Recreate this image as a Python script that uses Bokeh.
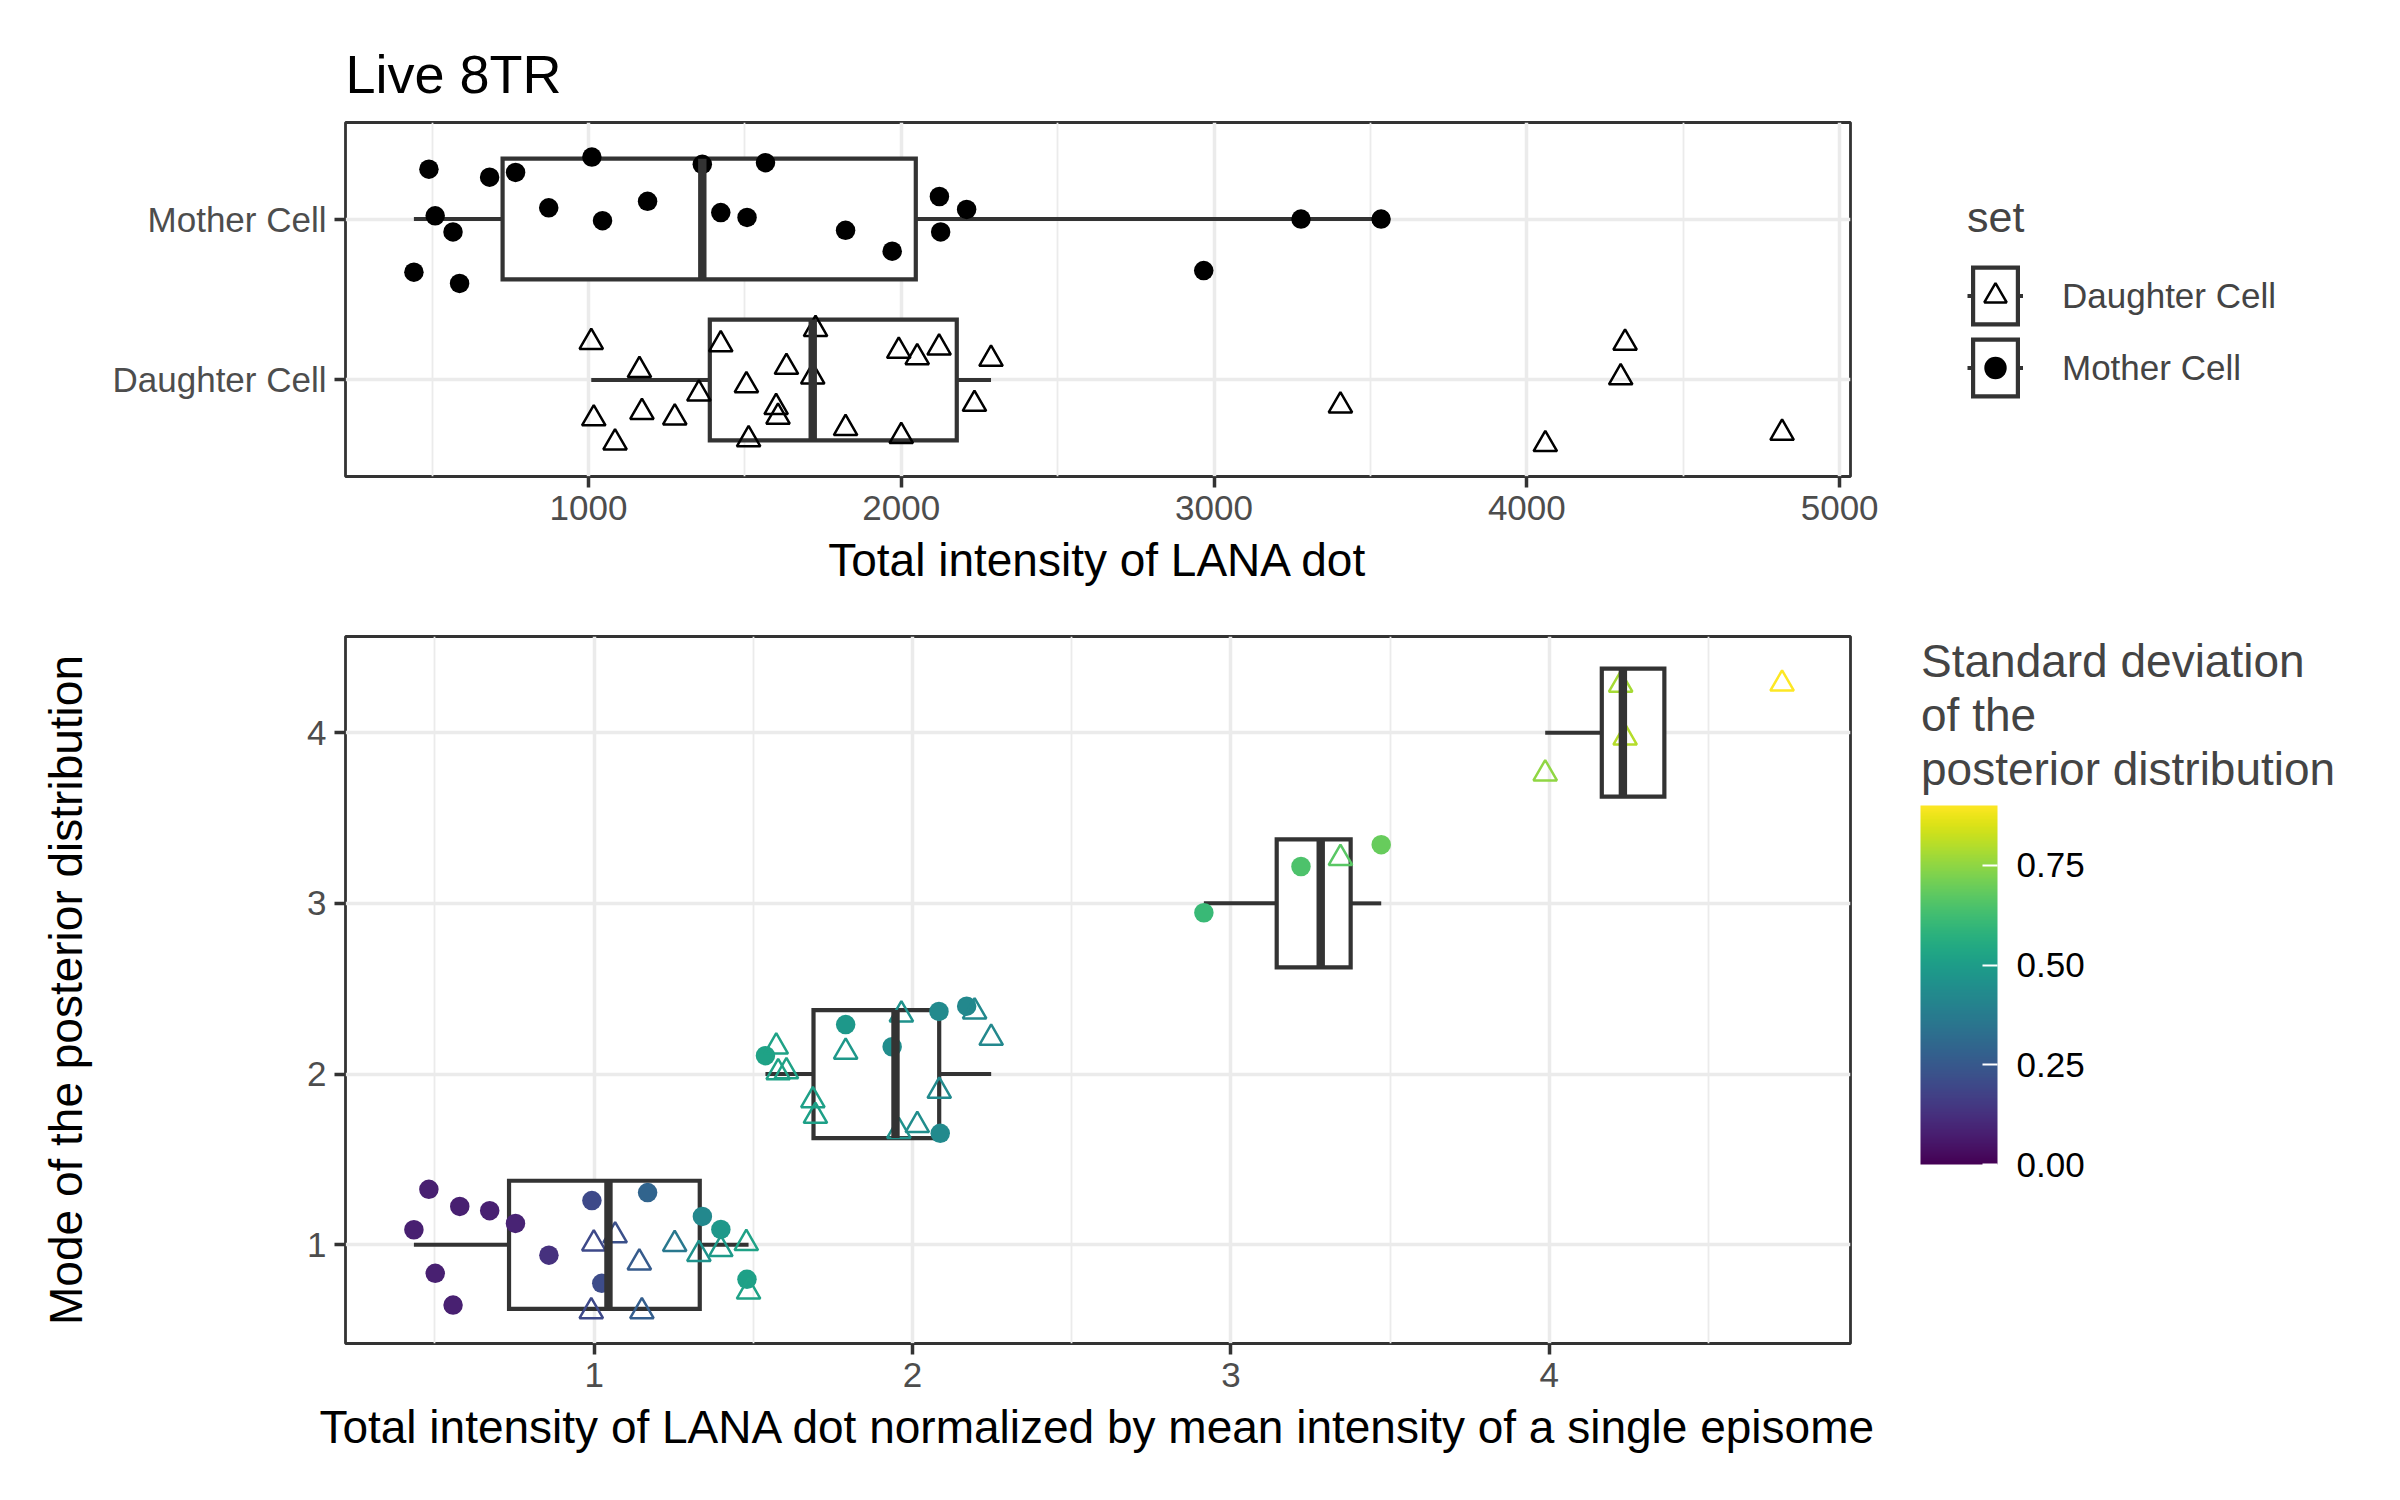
import numpy as np
from bokeh.plotting import figure
from bokeh.layouts import column
from bokeh.models import (ColumnDataSource, Range1d, FixedTicker, Legend, LegendItem,
                          ColorBar, LinearColorMapper, PrintfTickFormatter)
from bokeh.palettes import Viridis256
from bokeh.embed import file_html
from bokeh.resources import INLINE

FONT = "Liberation Sans"
DARK = "#333333"
GRID = "#EBEBEB"

# ---------------- data ----------------
set_labels = ["Daughter Cell", "Mother Cell"]

# top panel: total intensity of the LANA dot, with the vertical jitter of each point
mother_intensity = [442, 490, 510, 567, 588, 684, 767, 873, 1011, 1045, 1189, 1364,
                    1423, 1507, 1566, 1822, 1971, 2122, 2126, 2209, 2967, 3278, 3534]
mother_jitter = [-0.33, 0.31, 0.02, -0.08, -0.40, 0.26, 0.29, 0.07, 0.385, -0.01, 0.11, 0.34,
                 0.04, 0.01, 0.35, -0.07, -0.20, 0.14, -0.08, 0.06, -0.32, 0.0, 0.0]
daughter_intensity = [1009, 1017, 1085, 1163, 1171, 1276, 1353, 1423, 1505, 1512, 1600, 1606,
                      1633, 1717, 1726, 1822, 1992, 2000, 2051, 2121, 2234, 2287, 3404, 4059,
                      4300, 4314, 4816]
daughter_jitter = [0.235, -0.24, -0.39, 0.06, -0.20, -0.234, -0.086, 0.22, -0.034, -0.37, -0.17,
                   -0.23, 0.08, 0.02, 0.315, -0.30, 0.18, -0.35, 0.14, 0.20, -0.15, 0.13, -0.16,
                   -0.40, 0.015, 0.23, -0.33]

# bottom panel: normalised intensity, posterior mode, jitter and posterior sd
mother_norm = [0.434, 0.481, 0.501, 0.557, 0.578, 0.672, 0.753, 0.858, 0.993, 1.024, 1.168, 1.340,
               1.398, 1.480, 1.538, 1.790, 1.936, 2.083, 2.087, 2.170, 2.915, 3.220, 3.472]
mother_mode = [1, 1, 1, 1, 1, 1, 1, 1, 1, 1, 1, 1, 1, 1, 2, 2, 2, 2, 2, 2, 3, 3, 3]
mother_mode_jitter = [0.088, 0.325, -0.167, -0.353, 0.225, 0.200, 0.125, -0.061, 0.259, -0.226,
                      0.306, 0.166, 0.090, -0.202, 0.108, 0.290, 0.160, 0.367, -0.347, 0.398,
                      -0.055, 0.216, 0.344]
mother_sd = [0.08, 0.08, 0.08, 0.08, 0.08, 0.08, 0.09, 0.13, 0.20, 0.21, 0.29, 0.42, 0.48, 0.51,
             0.52, 0.48, 0.44, 0.43, 0.43, 0.42, 0.61, 0.65, 0.69]

daughter_norm = [0.991, 0.999, 1.066, 1.142, 1.150, 1.253, 1.329, 1.398, 1.478, 1.485, 1.572, 1.578,
                 1.604, 1.687, 1.695, 1.790, 1.957, 1.965, 2.015, 2.084, 2.195, 2.247, 3.344, 3.987,
                 4.224, 4.238, 4.731]
daughter_mode = [1, 1, 1, 1, 1, 1, 1, 1, 1, 1, 2, 2, 2, 2, 2, 2, 2, 2, 2, 2, 2, 2, 3, 4, 4, 4, 4]
daughter_mode_jitter = [-0.39, 0.007, 0.054, -0.105, -0.39, 0.004, -0.055, -0.026, 0.009, -0.275,
                        0.16, 0.01, 0.015, -0.154, -0.246, 0.13, -0.334, 0.348, -0.30, -0.099,
                        0.366, 0.211, 0.265, -0.24, 0.28, -0.03, 0.286]
daughter_sd = [0.20, 0.20, 0.22, 0.26, 0.27, 0.36, 0.46, 0.49, 0.52, 0.52, 0.52, 0.52, 0.52, 0.51,
               0.51, 0.48, 0.46, 0.46, 0.44, 0.43, 0.42, 0.42, 0.67, 0.75, 0.78, 0.80, 0.90]

top_ticks = [1000, 2000, 3000, 4000, 5000]
top_minor = [500, 1500, 2500, 3500, 4500]
bottom_ticks = [1, 2, 3, 4]
bottom_minor = [0.5, 1.5, 2.5, 3.5, 4.5]
sd_ticks = [0.0, 0.25, 0.5, 0.75]


def box_stats(values):
    v = np.asarray(values, dtype=float)
    q1, med, q3 = np.percentile(v, [25, 50, 75])
    iqr = q3 - q1
    inside = v[(v >= q1 - 1.5 * iqr) & (v <= q3 + 1.5 * iqr)]
    return q1, med, q3, min(q1, inside.min()), max(q3, inside.max())


def padded(lo, hi, frac=0.05):
    d = (hi - lo) * frac
    return Range1d(lo - d, hi + d)


def style(p):
    p.background_fill_color = "white"
    p.border_fill_color = "white"
    p.outline_line_color = DARK
    p.outline_line_width = 2.8
    for ax in p.axis:
        ax.axis_line_color = None
        ax.major_tick_line_color = DARK
        ax.major_tick_line_width = 3.5
        ax.major_tick_out = 11
        ax.major_tick_in = 0
        ax.minor_tick_line_color = None
        ax.major_label_text_font = FONT
        ax.major_label_text_font_size = "35px"
        ax.major_label_text_color = "#4D4D4D"
        ax.major_label_standoff = 8
        ax.axis_label_text_font = FONT
        ax.axis_label_text_font_size = "46px"
        ax.axis_label_text_font_style = "normal"
        ax.axis_label_text_color = "black"
    p.xaxis.axis_label_standoff = 11
    for g in p.grid:
        g.grid_line_color = GRID
        g.grid_line_width = 3.5
    p.xgrid.minor_grid_line_color = GRID
    p.xgrid.minor_grid_line_width = 1.8


def draw_box(p, values, centre, width=0.75):
    q1, med, q3, lo, hi = box_stats(values)
    half = width / 2
    w = p.segment(x0=[lo, q3], y0=[centre, centre], x1=[q1, hi], y1=[centre, centre],
                  line_color=DARK, line_width=4.0)
    b = p.quad(left=[q1], right=[q3], bottom=[centre - half], top=[centre + half],
               fill_color="white", line_color=DARK, line_width=4.2, line_join="miter")
    return w, b, (med, centre - half, centre + half)


def draw_median(p, m):
    med, y0, y1 = m
    p.segment(x0=[med], y0=[y0], x1=[med], y1=[y1], line_color=DARK, line_width=8.4)


# ---------------- top panel ----------------
all_raw = mother_intensity + daughter_intensity
p1 = figure(title="Live 8TR", frame_width=1505, frame_height=354,
            min_border_left=345, min_border_right=540, min_border_top=122, min_border_bottom=120,
            x_range=padded(min(all_raw), max(all_raw)), y_range=Range1d(0.4, 2.6),
            output_backend="svg", toolbar_location=None)
p1.xaxis.ticker = FixedTicker(ticks=top_ticks, minor_ticks=top_minor)
p1.yaxis.ticker = FixedTicker(ticks=[1, 2])
p1.yaxis.major_label_overrides = {i + 1: lab for i, lab in enumerate(set_labels)}
p1.xaxis.axis_label = "Total intensity of LANA dot"
style(p1)
p1.title.text_font = FONT
p1.title.text_font_size = "54px"
p1.title.text_font_style = "normal"
p1.title.text_color = "black"
p1.title.align = "left"
p1.title.offset = 0
p1.title.standoff = 38

d_centre = set_labels.index("Daughter Cell") + 1
m_centre = set_labels.index("Mother Cell") + 1
wd, bd, md = draw_box(p1, daughter_intensity, d_centre)
wm, bm, mm = draw_box(p1, mother_intensity, m_centre)
pd_ = p1.scatter(daughter_intensity, [d_centre + j for j in daughter_jitter], marker="triangle",
                 size=23.5, fill_color=None, line_color="black", line_width=2.5)
pm = p1.scatter(mother_intensity, [m_centre + j for j in mother_jitter], marker="circle",
                size=19.5, fill_color="black", line_color=None)
draw_median(p1, md)
draw_median(p1, mm)

legend = Legend(items=[LegendItem(label="Daughter Cell", renderers=[wd, bd, pd_]),
                       LegendItem(label="Mother Cell", renderers=[wm, bm, pm])],
                location=(117, 73), title="set")
legend.title_text_font = FONT
legend.title_text_font_size = "43px"
legend.title_text_font_style = "normal"
legend.title_standoff = 18
legend.label_text_font = FONT
legend.label_text_font_size = "35px"
legend.glyph_width = 56
legend.glyph_height = 71
legend.label_standoff = 39
legend.spacing = 1
legend.padding = 0
legend.margin = 0
legend.border_line_color = None
legend.background_fill_alpha = 0
p1.add_layout(legend, "right")

# ---------------- bottom panel ----------------
m_y = [m + j for m, j in zip(mother_mode, mother_mode_jitter)]
d_y = [m + j for m, j in zip(daughter_mode, daughter_mode_jitter)]
all_norm = mother_norm + daughter_norm
all_mode = mother_mode + daughter_mode
modes = sorted(set(all_mode))
y_lo = min(min(m_y + d_y), min(modes) - 0.375)
y_hi = max(max(m_y + d_y), max(modes) + 0.375)

p2 = figure(frame_width=1505, frame_height=707,
            min_border_left=345, min_border_right=540, min_border_top=40, min_border_bottom=140,
            x_range=padded(min(all_norm), max(all_norm)), y_range=padded(y_lo, y_hi),
            output_backend="svg", toolbar_location=None)
p2.xaxis.ticker = FixedTicker(ticks=bottom_ticks, minor_ticks=bottom_minor)
p2.yaxis.ticker = FixedTicker(ticks=bottom_ticks)
p2.xaxis.axis_label = "Total intensity of LANA dot normalized by mean intensity of a single episome"
p2.yaxis.axis_label = "Mode of the posterior distribution"
style(p2)
p2.yaxis.axis_label_standoff = 212

medians = []
for mode in modes:
    vals = [x for x, m in zip(all_norm, all_mode) if m == mode]
    _, _, med = draw_box(p2, vals, mode)
    medians.append(med)

mapper = LinearColorMapper(palette=Viridis256, low=0, high=max(mother_sd + daughter_sd))
src_m = ColumnDataSource(dict(x=mother_norm, y=m_y, sd=mother_sd))
src_d = ColumnDataSource(dict(x=daughter_norm, y=d_y, sd=daughter_sd))
p2.scatter("x", "y", source=src_m, marker="circle", size=19.5,
           fill_color={"field": "sd", "transform": mapper}, line_color=None)
p2.scatter("x", "y", source=src_d, marker="triangle", size=23.5, fill_color=None,
           line_color={"field": "sd", "transform": mapper}, line_width=2.5)
for med in medians:
    draw_median(p2, med)

cbar = ColorBar(color_mapper=mapper, location=(1575, 179), width=77, height=359,
                ticker=FixedTicker(ticks=sd_ticks), formatter=PrintfTickFormatter(format="%.2f"))
cbar.major_label_text_font = FONT
cbar.major_label_text_font_size = "35px"
cbar.major_label_text_color = "black"
cbar.major_tick_line_color = "white"
cbar.major_tick_line_width = 2
cbar.major_tick_in = 15
cbar.major_tick_out = 0
cbar.minor_tick_line_color = None
cbar.label_standoff = 19
cbar.bar_line_color = None
cbar.border_line_color = None
cbar.background_fill_alpha = 0
cbar.padding = 0
cbar.margin = 0
p2.add_layout(cbar)

# title of the colour scale, set horizontally above the bar
cbar_anchor = p2.scatter(x=[], y=[], alpha=0)
cbar_title = Legend(items=[LegendItem(label=" ", renderers=[cbar_anchor])],
                    title="Standard deviation\nof the\nposterior distribution",
                    location=(71, 546))
cbar_title.title_text_font = FONT
cbar_title.title_text_font_size = "46px"
cbar_title.title_text_font_style = "normal"
cbar_title.title_text_line_height = 1.07
cbar_title.title_standoff = 0
cbar_title.label_text_font_size = "1px"
cbar_title.glyph_width = 1
cbar_title.glyph_height = 1
cbar_title.label_height = 1
cbar_title.label_width = 1
cbar_title.spacing = 0
cbar_title.padding = 0
cbar_title.margin = 0
cbar_title.border_line_color = None
cbar_title.background_fill_alpha = 0
p2.add_layout(cbar_title, "right")

layout = column(p1, p2)
open("out.html", "w").write(file_html(layout, INLINE))
